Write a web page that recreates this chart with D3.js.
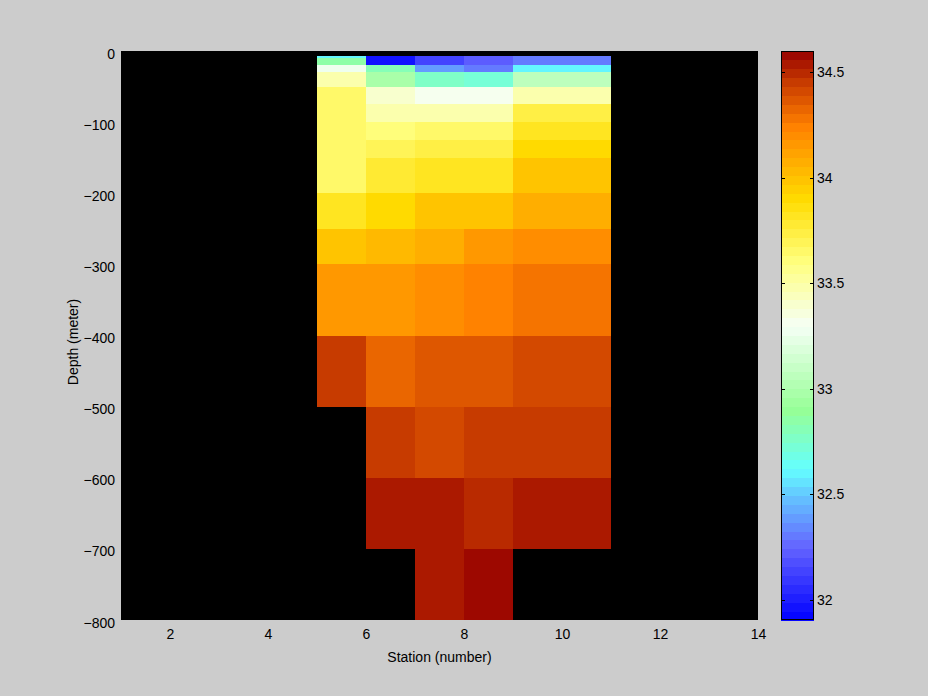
<!DOCTYPE html>
<html><head><meta charset="utf-8">
<script src="https://cdn.jsdelivr.net/npm/d3@7"></script>
<style>
html,body{margin:0;padding:0;background:#cccccc;}
text{font-family:"Liberation Sans",Arial,sans-serif;}
</style></head>
<body>
<svg id="chart" width="928" height="696"></svg>
<script>
// ---- data ----
const stationEdges = [5, 6, 7, 8, 9, 11];
const depthEdges = [7, 10, 20, 30, 50, 75, 100, 125, 150, 200, 250, 300, 400, 500, 600, 700, 800];
// salinity per station column, top to bottom (null = no data)
const col5 = [32.62, 32.85, 33.28, 33.5, 33.65, 33.65, 33.65, 33.65, 33.65, 33.83, 34.0, 34.15, 34.44, null, null, null];
const col6 = [31.98, 31.98, 32.8, 33.0, 33.38, 33.5, 33.6, 33.7, 33.78, 33.9, 34.05, 34.15, 34.32, 34.47, 34.54, null];
const col7 = [32.15, 32.15, 32.4, 32.78, 33.3, 33.5, 33.65, 33.75, 33.83, 34.0, 34.08, 34.2, 34.36, 34.42, 34.54, 34.54];
const col8 = [32.2, 32.2, 32.3, 32.72, 33.3, 33.5, 33.65, 33.75, 33.83, 34.0, 34.15, 34.23, 34.36, 34.47, 34.5, 34.58];
const col9 = [32.3, 32.3, 32.62, 33.05, 33.48, 33.73, 33.82, 33.9, 34.0, 34.08, 34.2, 34.27, 34.4, 34.47, 34.54, null];
const columns = [col5, col6, col7, col8, col9];
const xTicks = [2, 4, 6, 8, 10, 12, 14];
const yTicks = [0, -100, -200, -300, -400, -500, -600, -700, -800];
const cTicks = [32, 32.5, 33, 33.5, 34, 34.5];
const cDomain = [31.905, 34.601];
// colormap stops
const cmapVals = [31.905, 32.25, 32.5, 32.62, 32.9, 33.3, 33.6, 33.9, 34.25, 34.45, 34.601];
const cmapCols = ["#0000ff", "#6464ff", "#64c8ff", "#64ffff", "#96ff96", "#f5fff5", "#ffff80", "#ffdc00", "#ff8000", "#c83c00", "#960000"];

// ---- layout ----
const svg = d3.select("#chart");
const L = 121, R = 758, T = 51, B = 620;
const x = d3.scaleLinear().domain([1, 14]).range([L, R]);
const y = d3.scaleLinear().domain([0, -800]).range([T, B]);

const cont = d3.scaleLinear().domain(cmapVals).range(cmapCols).interpolate(d3.interpolateRgb).clamp(true);
const N = 64;
const levels = d3.range(N).map(i => cont(cDomain[0] + (i + 0.5) * (cDomain[1] - cDomain[0]) / N));
const color = d3.scaleQuantize().domain(cDomain).range(levels);

// plot background
svg.append("rect").attr("x", L).attr("y", T).attr("width", R - L).attr("height", B - T).attr("fill", "#000");

const cells = [];
columns.forEach((col, ci) => {
  col.forEach((v, ri) => {
    if (v !== null) cells.push({x0: stationEdges[ci], x1: stationEdges[ci + 1], d0: depthEdges[ri], d1: depthEdges[ri + 1], v});
  });
});
svg.append("g").selectAll("rect").data(cells).join("rect")
  .attr("x", d => x(d.x0)).attr("y", d => y(-d.d0))
  .attr("width", d => x(d.x1) - x(d.x0)).attr("height", d => y(-d.d1) - y(-d.d0))
  .attr("fill", d => color(d.v)).attr("shape-rendering", "crispEdges");

// axes
const xa = svg.append("g").attr("transform", `translate(0,${B})`)
  .call(d3.axisBottom(x).tickValues(xTicks).tickSize(0).tickPadding(9));
xa.select(".domain").remove();
xa.selectAll("text").attr("font-size", 14).attr("fill", "#000").attr("font-family", "Liberation Sans, Arial, sans-serif");
const ya = svg.append("g").attr("transform", `translate(${L},0)`)
  .call(d3.axisLeft(y).tickValues(yTicks).tickSize(0).tickPadding(6));
ya.select(".domain").remove();
ya.selectAll("text").attr("font-size", 14).attr("fill", "#000").attr("dy", "0.5em").attr("font-family", "Liberation Sans, Arial, sans-serif");

svg.append("text").attr("x", (L + R) / 2).attr("y", 662).attr("text-anchor", "middle")
  .attr("font-size", 14).text("Station (number)");
svg.append("text").attr("transform", "translate(78,342) rotate(-90)").attr("text-anchor", "middle")
  .attr("font-size", 14).text("Depth (meter)");

// colorbar
const cbL = 781, cbR = 814;
const cy = d3.scaleLinear().domain(cDomain).range([B, T]);
svg.append("g").selectAll("rect").data(levels).join("rect")
  .attr("x", cbL).attr("width", cbR - cbL)
  .attr("y", (d, i) => cy(cDomain[0] + (i + 1) * (cDomain[1] - cDomain[0]) / N))
  .attr("height", (cy(cDomain[0]) - cy(cDomain[0] + (cDomain[1] - cDomain[0]) / N)) + 0.5)
  .attr("fill", d => d).attr("shape-rendering", "crispEdges");
svg.append("rect").attr("x", cbL + 0.5).attr("y", T + 0.5).attr("width", cbR - cbL - 1).attr("height", B - T - 1)
  .attr("fill", "none").attr("stroke", "#000").attr("stroke-width", 1);
const cg = svg.append("g").selectAll("g").data(cTicks).join("g");
cg.append("line").attr("x1", cbL).attr("x2", cbL + 4).attr("y1", d => Math.round(cy(d)) + 0.5).attr("y2", d => Math.round(cy(d)) + 0.5).attr("stroke", "#000");
cg.append("line").attr("x1", cbR - 4).attr("x2", cbR).attr("y1", d => Math.round(cy(d)) + 0.5).attr("y2", d => Math.round(cy(d)) + 0.5).attr("stroke", "#000");
cg.append("text").attr("x", cbR + 3).attr("y", d => cy(d)).attr("dy", "0.36em").attr("font-size", 14).text(d => d);
</script>
</body></html>
